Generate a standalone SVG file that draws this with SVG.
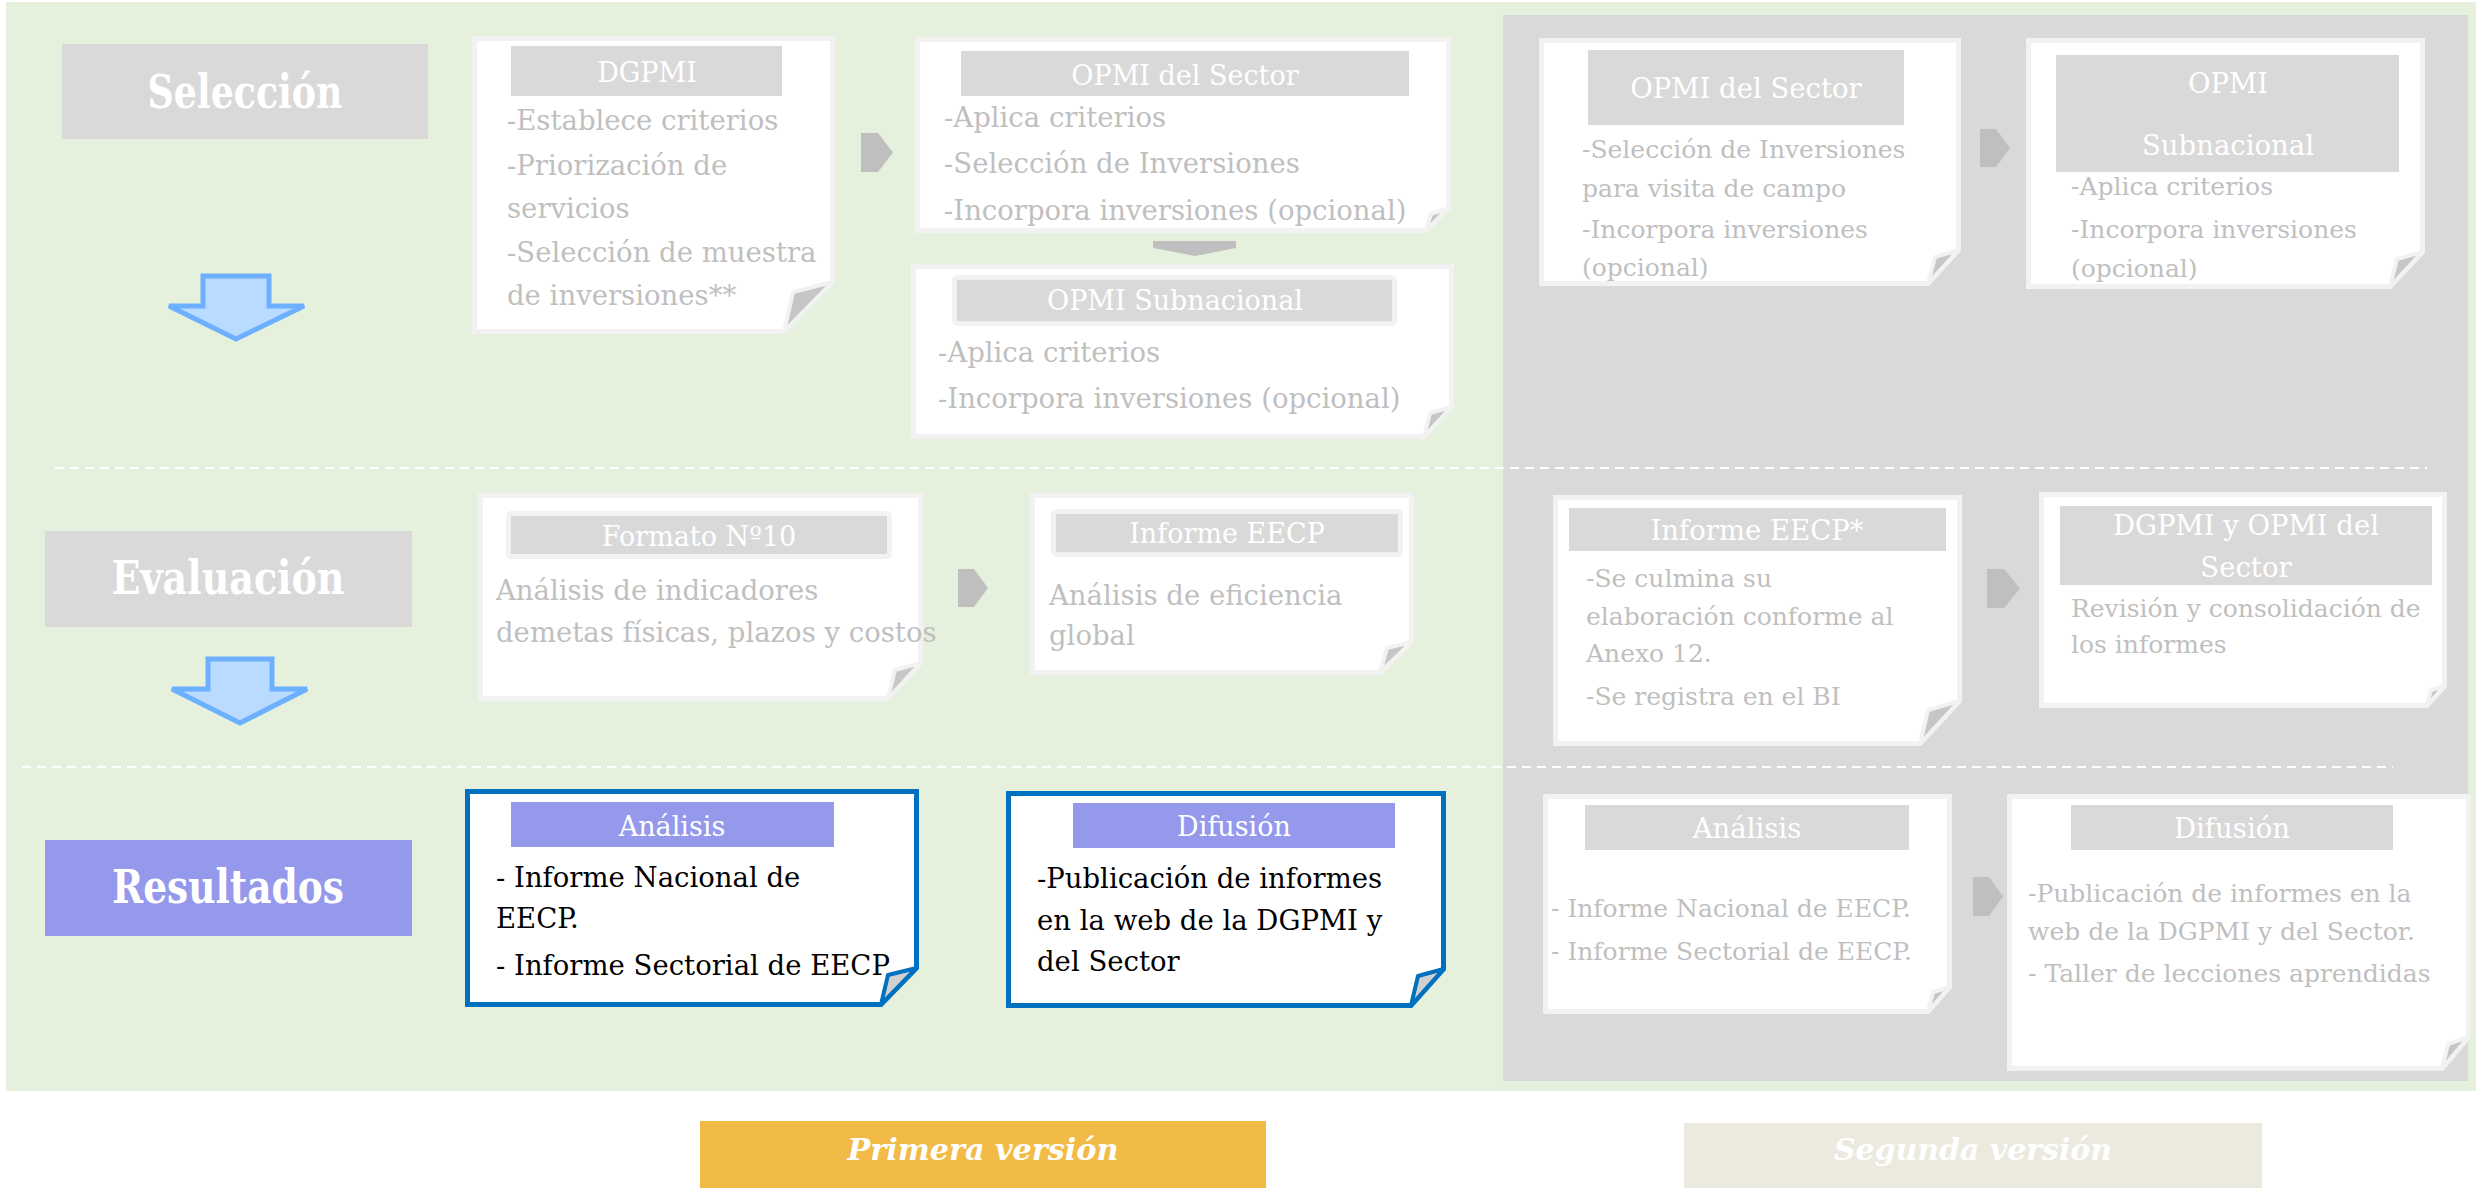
<svg xmlns="http://www.w3.org/2000/svg" width="2476" height="1188" viewBox="0 0 2476 1188">
<style>
.note{fill:#fff;stroke:#f2f2f2;stroke-width:5;stroke-linejoin:miter}
.fold{fill:#c6c6c6;stroke:#f2f2f2;stroke-width:4;stroke-linejoin:round}
.bnote{fill:#fff;stroke:#0070c0;stroke-width:5;stroke-linejoin:miter}
.bfold{fill:#d0d0d0;stroke:#0070c0;stroke-width:4;stroke-linejoin:round}
.hdr{fill:#d9d9d9}
.hdrf{fill:#d9d9d9;stroke:#f2f2f2;stroke-width:5}
.bhdr{fill:#9599ec}
.ht{font-family:"DejaVu Serif","Liberation Serif",serif;fill:#fff;text-anchor:middle;font-size:27px}
.ht2{font-size:27.5px}
.bt{font-family:"DejaVu Serif","Liberation Serif",serif;fill:#bfbfbf;font-size:27.5px}
.bt2{font-size:25px}
.dk{fill:#000}
.phase{font-family:"DejaVu Serif","Liberation Serif",serif;font-weight:bold;fill:#fff;text-anchor:middle;font-size:46px}
.leg{font-family:"DejaVu Serif","Liberation Serif",serif;font-weight:bold;font-style:italic;fill:#fff;text-anchor:middle;font-size:30px}
.chev{fill:#bfbfbf}
.darrow{fill:#b8dbff;stroke:#6cb0ff;stroke-width:5;stroke-linejoin:miter}
.dash{stroke:#fff;stroke-width:2;stroke-dasharray:9 6;fill:none}
</style>
<rect width="2476" height="1188" fill="#fff"/>
<rect x="6" y="2" width="2470" height="1089" fill="#e5f1dc"/>
<rect x="1503" y="15" width="965" height="1066" fill="#d9d9d9"/>
<line class="dash" x1="55" y1="468" x2="2427" y2="468"/>
<line class="dash" x1="22" y1="767" x2="2393" y2="767"/>

<g id="phase-seleccion">
<rect x="62" y="44" width="366" height="95" fill="#d9d9d9"/>
<text class="phase" x="245" y="108" textLength="195" lengthAdjust="spacingAndGlyphs">Selección</text>
</g>
<g id="phase-evaluacion">
<rect x="45" y="531" width="367" height="96" fill="#d9d9d9"/>
<text class="phase" x="228" y="594" textLength="233" lengthAdjust="spacingAndGlyphs">Evaluación</text>
</g>
<g id="phase-resultados">
<rect x="45" y="840" width="367" height="96" fill="#9599ec"/>
<text class="phase" x="228" y="903" textLength="232" lengthAdjust="spacingAndGlyphs">Resultados</text>
</g>

<g id="note-dgpmi">
<path class="note" d="M474.5,38.5 H832.5 V282 L784,331.5 H474.5 Z"/>
<path class="fold" d="M832.5,282 L793,292 L784,331.5 Z"/>
<rect class="hdr" x="511" y="46" width="271" height="50"/>
<text class="ht" x="647" y="82">DGPMI</text>
<text class="bt" x="507" y="130">-Establece criterios</text>
<text class="bt" x="507" y="175">-Priorización de</text>
<text class="bt" x="507" y="218">servicios</text>
<text class="bt" x="507" y="262">-Selección de muestra</text>
<text class="bt" x="507" y="305">de inversiones**</text>
</g>

<g id="note-opmi-sector-1">
<path class="note" d="M917.5,39.5 H1448.5 V208 L1426,230.5 H917.5 Z"/>
<path class="fold" d="M1448.5,208 L1431,214 L1426,230.5 Z"/>
<rect class="hdr" x="961" y="51" width="448" height="45"/>
<text class="ht" x="1185" y="85">OPMI del Sector</text>
<text class="bt" x="944" y="127">-Aplica criterios</text>
<text class="bt" x="944" y="173">-Selección de Inversiones</text>
<text class="bt" x="944" y="220">-Incorpora inversiones (opcional)</text>
</g>

<g id="note-opmi-subnacional-1">
<path class="note" d="M913.5,266.5 H1451.5 V407 L1424,436.5 H913.5 Z"/>
<path class="fold" d="M1451.5,407 L1430,413 L1424,436.5 Z"/>
<rect class="hdrf" x="954.5" y="277.5" width="440" height="46" rx="3"/>
<text class="ht" x="1175" y="310">OPMI Subnacional</text>
<text class="bt" x="938" y="362">-Aplica criterios</text>
<text class="bt" x="938" y="408">-Incorpora inversiones (opcional)</text>
</g>

<g id="note-opmi-sector-2">
<path class="note" d="M1541.5,40.5 H1958.5 V250 L1928,283.5 H1541.5 Z"/>
<path class="fold" d="M1958.5,250 L1935,257 L1928,283.5 Z"/>
<rect class="hdr" x="1588" y="50" width="316" height="75"/>
<text class="ht ht2" x="1746" y="98">OPMI del Sector</text>
<text class="bt bt2" x="1582" y="158">-Selección de Inversiones</text>
<text class="bt bt2" x="1582" y="197">para visita de campo</text>
<text class="bt bt2" x="1582" y="238">-Incorpora inversiones</text>
<text class="bt bt2" x="1582" y="276">(opcional)</text>
</g>

<g id="note-opmi-subnacional-2">
<path class="note" d="M2028.5,40.5 H2422.5 V252 L2390,286.5 H2028.5 Z"/>
<path class="fold" d="M2422.5,252 L2397,259 L2390,286.5 Z"/>
<rect class="hdr" x="2056" y="55" width="343" height="117"/>
<text class="ht ht2" x="2228" y="93">OPMI</text>
<text class="ht ht2" x="2228" y="155">Subnacional</text>
<text class="bt bt2" x="2071" y="195">-Aplica criterios</text>
<text class="bt bt2" x="2071" y="238">-Incorpora inversiones</text>
<text class="bt bt2" x="2071" y="277">(opcional)</text>
</g>

<g id="note-formato10">
<path class="note" d="M480.5,495.5 H920.5 V663 L888,698.5 H480.5 Z"/>
<path class="fold" d="M920.5,663 L895,670 L888,698.5 Z"/>
<rect class="hdrf" x="508.5" y="513.5" width="381" height="43" rx="3"/>
<text class="ht" x="699" y="546">Formato Nº10</text>
<text class="bt" x="496" y="600">Análisis de indicadores</text>
<text class="bt" x="496" y="642">demetas físicas, plazos y costos</text>
</g>

<g id="note-informe-eecp">
<path class="note" d="M1032.5,495.5 H1411.5 V642 L1380,672.5 H1032.5 Z"/>
<path class="fold" d="M1411.5,642 L1387,648 L1380,672.5 Z"/>
<rect class="hdrf" x="1053.5" y="511.5" width="347" height="43" rx="3"/>
<text class="ht" x="1227" y="543">Informe EECP</text>
<text class="bt" x="1049" y="605">Análisis de eficiencia</text>
<text class="bt" x="1049" y="645">global</text>
</g>

<g id="note-informe-eecp-2">
<path class="note" d="M1555.5,497.5 H1959.5 V701 L1920,743.5 H1555.5 Z"/>
<path class="fold" d="M1959.5,701 L1928,710 L1920,743.5 Z"/>
<rect class="hdr" x="1569" y="508" width="377" height="43"/>
<text class="ht ht2" x="1757" y="540">Informe EECP*</text>
<text class="bt bt2" x="1586" y="587">-Se culmina su</text>
<text class="bt bt2" x="1586" y="625">elaboración conforme al</text>
<text class="bt bt2" x="1586" y="662">Anexo 12.</text>
<text class="bt bt2" x="1586" y="705">-Se registra en el BI</text>
</g>

<g id="note-dgpmi-opmi-sector">
<path class="note" d="M2041.5,494.5 H2444.5 V686 L2427,705.5 H2041.5 Z"/>
<path class="fold" d="M2444.5,686 L2431,690 L2427,705.5 Z"/>
<rect class="hdr" x="2060" y="506" width="372" height="79"/>
<text class="ht ht2" x="2246" y="535">DGPMI y OPMI del</text>
<text class="ht ht2" x="2246" y="577">Sector</text>
<text class="bt bt2" x="2071" y="617">Revisión y consolidación de</text>
<text class="bt bt2" x="2071" y="653">los informes</text>
</g>

<g id="note-analisis-1">
<path class="bnote" d="M467.5,791.5 H916.5 V968 L881,1004.5 H467.5 Z"/>
<path class="bfold" d="M916.5,968 L888,975 L881,1004.5 Z"/>
<rect class="bhdr" x="511" y="802" width="323" height="45"/>
<text class="ht" x="672" y="836">Análisis</text>
<text class="bt dk" x="496" y="887">- Informe Nacional de</text>
<text class="bt dk" x="496" y="928">EECP.</text>
<text class="bt dk" x="496" y="975">- Informe Sectorial de EECP</text>
</g>

<g id="note-difusion-1">
<path class="bnote" d="M1008.5,793.5 H1443.5 V969 L1411,1005.5 H1008.5 Z"/>
<path class="bfold" d="M1443.5,969 L1418,976 L1411,1005.5 Z"/>
<rect class="bhdr" x="1073" y="803" width="322" height="45"/>
<text class="ht" x="1234" y="836">Difusión</text>
<text class="bt dk" x="1037" y="888">-Publicación de informes</text>
<text class="bt dk" x="1037" y="930">en la web de la DGPMI y</text>
<text class="bt dk" x="1037" y="971">del Sector</text>
</g>

<g id="note-analisis-2">
<path class="note" d="M1545.5,796.5 H1949.5 V987 L1928,1011.5 H1545.5 Z"/>
<path class="fold" d="M1949.5,987 L1933,992 L1928,1011.5 Z"/>
<rect class="hdr" x="1585" y="805" width="324" height="45"/>
<text class="ht ht2" x="1747" y="838">Análisis</text>
<text class="bt bt2" x="1551" y="917">- Informe Nacional de EECP.</text>
<text class="bt bt2" x="1551" y="960">- Informe Sectorial de EECP.</text>
</g>

<g id="note-difusion-2">
<path class="note" d="M2009.5,796.5 H2468.5 V1037 L2442,1068.5 H2009.5 Z"/>
<path class="fold" d="M2468.5,1037 L2448,1044 L2442,1068.5 Z"/>
<rect class="hdr" x="2071" y="805" width="322" height="45"/>
<text class="ht ht2" x="2232" y="838">Difusión</text>
<text class="bt bt2" x="2028" y="902">-Publicación de informes en la</text>
<text class="bt bt2" x="2028" y="940">web de la DGPMI y del Sector.</text>
<text class="bt bt2" x="2028" y="982">- Taller de lecciones aprendidas</text>
</g>

<g id="legend-primera">
<rect x="700" y="1121" width="566" height="67" fill="#f2bb47"/>
<text class="leg" x="983" y="1160" textLength="271" lengthAdjust="spacingAndGlyphs">Primera versión</text>
</g>
<g id="legend-segunda">
<rect x="1684" y="1123" width="578" height="65" fill="#eceadf"/>
<text class="leg" x="1973" y="1160" textLength="278" lengthAdjust="spacingAndGlyphs">Segunda versión</text>
</g>

<g id="connectors">
<polygon class="darrow" points="203,276 269,276 269,306 304,306 236,339 169,306 203,306"/>
<polygon class="darrow" points="208,659 272,659 272,689 307,689 240,723 172,689 208,689"/>
<polygon class="chev" points="861,133 878,133 893,152.5 878,172 861,172"/>
<polygon class="chev" points="1153,241 1236,241 1236,248 1195,256 1153,248"/>
<polygon class="chev" points="1980,129 1996,129 2010,148 1996,167 1980,167"/>
<polygon class="chev" points="958,569 974,569 988,588 974,607 958,607"/>
<polygon class="chev" points="1987,569 2004,569 2020,588.5 2004,608 1987,608"/>
<polygon class="chev" points="1973,877 1989,877 2003,896.5 1989,916 1973,916"/>
</g>
</svg>
